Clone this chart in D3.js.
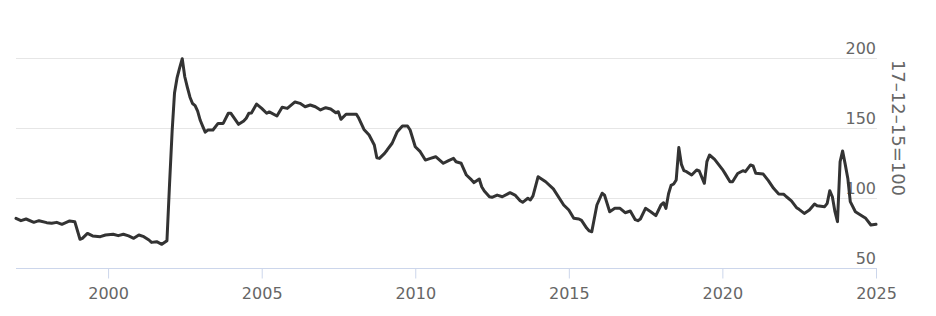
<!DOCTYPE html>
<html>
<head>
<meta charset="utf-8">
<script src="https://cdn.jsdelivr.net/npm/d3@7"></script>
<style>
  html, body { margin: 0; padding: 0; background: #fff; }
  svg { display: block; }
  text { font-family: "DejaVu Sans", sans-serif; fill: #666; }
</style>
</head>
<body>
<svg id="chart" width="936" height="316"></svg>
<script>
const dates = ["1997-01","1997-03","1997-05","1997-08","1997-10","1998-01","1998-03","1998-05","1998-07","1998-10","1998-12",
"1999-02","1999-03","1999-05","1999-07","1999-10","1999-12","2000-03","2000-05","2000-07","2000-09","2000-11",
"2001-01","2001-03","2001-05","2001-06","2001-08","2001-10","2001-12",
"2002-01","2002-02","2002-03","2002-04","2002-05","2002-06","2002-07","2002-08","2002-09","2002-10","2002-11","2002-12",
"2003-01","2003-02","2003-03","2003-04","2003-06","2003-08","2003-10","2003-12",
"2004-01","2004-04","2004-06","2004-07","2004-08","2004-09","2004-11",
"2005-01","2005-03","2005-04","2005-07","2005-09","2005-11",
"2006-02","2006-04","2006-06","2006-08","2006-10","2006-12",
"2007-02","2007-04","2007-06","2007-07","2007-08","2007-10",
"2008-02","2008-03","2008-05","2008-07","2008-09","2008-10","2008-11",
"2009-01","2009-02","2009-04","2009-06","2009-08","2009-10","2009-11",
"2010-01","2010-03","2010-05","2010-07","2010-09","2010-12",
"2011-02","2011-04","2011-05","2011-07","2011-09","2011-11","2011-12",
"2012-02","2012-03","2012-04","2012-06","2012-07","2012-09","2012-11",
"2013-02","2013-04","2013-06","2013-07","2013-09","2013-10","2013-11",
"2014-01","2014-04","2014-07","2014-11",
"2015-01","2015-03","2015-05","2015-06","2015-08","2015-09","2015-10","2015-12",
"2016-02","2016-03","2016-05","2016-07","2016-09","2016-11",
"2017-01","2017-03","2017-04","2017-05","2017-07","2017-09","2017-11",
"2018-01","2018-02","2018-03","2018-04","2018-05","2018-06","2018-07","2018-08","2018-09","2018-10","2018-11",
"2019-01","2019-03","2019-04","2019-06","2019-07","2019-08","2019-10",
"2020-01","2020-02","2020-04","2020-05","2020-07","2020-09","2020-10","2020-12",
"2021-01","2021-02","2021-05","2021-07","2021-09","2021-11",
"2022-01","2022-02","2022-04","2022-06","2022-07","2022-09","2022-11",
"2023-01","2023-02","2023-05","2023-06","2023-07","2023-08","2023-09","2023-10","2023-11","2023-12",
"2024-01","2024-02","2024-03","2024-05","2024-07","2024-09","2024-11","2025-01"];

const values = [85.5,83.8,85.0,82.6,83.8,82.4,81.9,82.6,81.2,83.6,83.1,
70.5,71.2,74.7,72.9,72.4,73.6,74.1,73.1,74.1,72.9,71.2,
73.6,72.4,70.0,68.3,68.8,66.9,69.5,
110,148,175,186,193,199.5,186.6,179,172,167.5,166,162,
155.5,151,147,148.5,148.6,153.3,153.3,160.5,
160.5,152.6,155,157,160.5,160.7,167.1,
164.0,160.5,161.5,158.6,164.8,164.0,
168.6,167.6,165.2,166.4,165.2,162.9,
164.5,163.6,160.9,161.6,156.2,159.8,
159.8,156.9,149.0,145,137.9,128.8,128.3,
131.9,134.3,139.1,147.4,151.4,151.4,148.6,
136.6,133.1,127.1,128.3,129.5,124.8,
126.7,128.3,125.9,124.8,116.4,112.9,111.0,
113.6,108,105,100.9,100.5,102.1,100.9,
103.8,102.1,98,96.9,99.8,98.6,101.5,
115.2,111.6,106.5,95,
91.4,85.5,85,84,78.5,76.5,75.9,95,
103.4,102,90.2,92.6,92.6,89.5,
90.7,84.5,83.8,85,92.6,90.2,87.4,
95,96.6,92.6,103,109,110,112.9,136,124,119.5,118.8,
116.4,120,119.3,110.5,126,130.7,127.6,
120.5,117.6,111.6,111.6,117.5,119.5,118.8,123.6,
122.9,117.6,117.1,112.4,106.9,102.9,
102.6,100.9,97.9,93.1,91.9,89,91.4,
95.7,94.5,93.8,96.2,105.2,100.9,90.2,83.1,125.9,133.6,
124,114,97.4,90.2,87.9,85.5,80.7,81.2];

const yTicks = [50, 100, 150, 200];
const xTickYears = [2000, 2005, 2010, 2015, 2020, 2025];
const axisTitle = "17–12–15=100";

const parse = d3.timeParse("%Y-%m");
const data = dates.map((d, i) => ({ date: parse(d), value: values[i] }));

const svg = d3.select("#chart");
const plotLeft = 16, plotRight = 876, plotTop = 58, plotBottom = 268;

const x = d3.scaleTime()
  .domain([new Date(1997, 0, 1), new Date(2025, 0, 1)])
  .range([plotLeft, plotRight]);
const y = d3.scaleLinear().domain([50, 200]).range([plotBottom, plotTop]);

// grid lines
svg.append("g").selectAll("line").data(yTicks.filter(t => t !== 50)).join("line")
  .attr("x1", plotLeft).attr("x2", plotRight + 1)
  .attr("y1", d => Math.round(y(d)) + 0.5).attr("y2", d => Math.round(y(d)) + 0.5)
  .attr("stroke", "#e6e6e6").attr("stroke-width", 1);

// y labels (right side, above grid lines)
svg.append("g").selectAll("text").data(yTicks).join("text")
  .attr("x", plotRight)
  .attr("y", d => y(d) - 4)
  .attr("text-anchor", "end")
  .style("font-size", "16px")
  .text(d => d);

// x axis
const xAxis = d3.axisBottom(x)
  .tickValues(xTickYears.map(yr => new Date(yr, 0, 1)))
  .tickFormat(d3.timeFormat("%Y"))
  .tickSize(10)
  .tickPadding(9);
const gx = svg.append("g").attr("transform", `translate(0,${plotBottom + 0.5})`).call(xAxis);
gx.select(".domain").attr("stroke", "#ccd6eb").attr("d", `M${plotLeft},0H${plotRight + 1}`);
gx.selectAll(".tick line").attr("stroke", "#ccd6eb");
gx.selectAll(".tick text").style("font-size", "16px").style("font-family", "DejaVu Sans, sans-serif").attr("fill", "#666");

// axis title
svg.append("text")
  .attr("transform", `translate(892,${(plotTop + 198) / 2}) rotate(90)`)
  .attr("text-anchor", "middle")
  .style("font-size", "18px")
  .text(axisTitle);

// line
const line = d3.line().x(d => x(d.date)).y(d => y(d.value));
svg.append("path").datum(data)
  .attr("d", line)
  .attr("fill", "none")
  .attr("stroke", "#333333")
  .attr("stroke-width", 3)
  .attr("stroke-linejoin", "round")
  .attr("stroke-linecap", "round");
</script>
</body>
</html>
